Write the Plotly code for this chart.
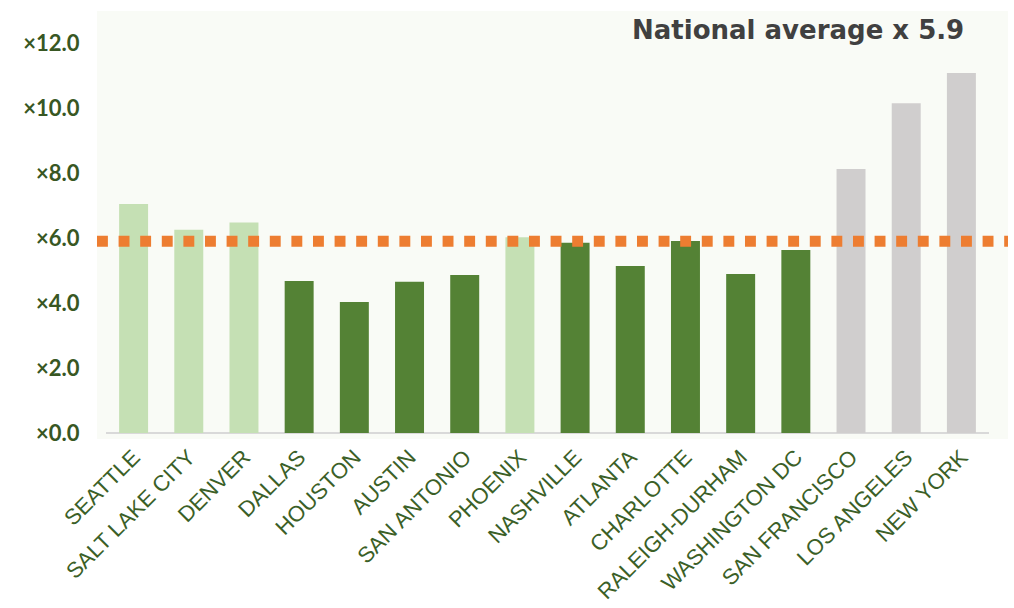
import plotly.graph_objects as go

# Cost multiples by metro area
cities = ["SEATTLE", "SALT LAKE CITY", "DENVER", "DALLAS", "HOUSTON", "AUSTIN",
          "SAN ANTONIO", "PHOENIX", "NASHVILLE", "ATLANTA", "CHARLOTTE",
          "RALEIGH-DURHAM", "WASHINGTON DC", "SAN FRANCISCO", "LOS ANGELES", "NEW YORK"]
multiples = [7.05, 6.25, 6.48, 4.68, 4.03, 4.65, 4.86, 6.02, 5.85, 5.14, 5.91,
             4.89, 5.63, 8.12, 10.15, 11.08]
groups = ["west", "west", "west", "south", "south", "south", "south", "west",
          "south", "south", "south", "south", "south", "coastal", "coastal", "coastal"]
national_average = 5.9

y_ticks = [0, 2, 4, 6, 8, 10, 12]
y_tick_text = ["×0.0", "×2.0", "×4.0", "×6.0", "×8.0", "×10.0", "×12.0"]

group_colors = {"west": "#c5e0b4", "south": "#548235", "coastal": "#d0cece"}
label_green = "#3b5f27"

fig = go.Figure()
fig.add_trace(go.Bar(
    x=cities,
    y=multiples,
    marker=dict(color=[group_colors[g] for g in groups], line=dict(width=0)),
    width=0.525,
    hoverinfo="x+y",
))

# Light panel behind the plot
fig.add_shape(type="rect", xref="paper", yref="paper",
              x0=-0.0102, x1=1.0215, y0=0, y1=1,
              fillcolor="#f9fbf6", line=dict(width=0), layer="below")

# National average reference line
fig.add_shape(type="line", xref="paper", yref="y",
              x0=-0.0102, x1=1.0215, y0=national_average, y1=national_average,
              line=dict(color="#ed7d31", width=11, dash="10.9px,10.7px"),
              layer="above")

fig.add_annotation(
    xref="paper", yref="paper", x=0.784, y=0.955,
    text=f"<b>National average x {national_average}</b>",
    showarrow=False, xanchor="center", yanchor="middle",
    font=dict(family="DejaVu Sans", size=26, color="#404040"),
)

fig.update_layout(
    width=1014, height=608,
    margin=dict(l=106, r=25, t=11, b=169, pad=0, autoexpand=False),
    paper_bgcolor="white",
    plot_bgcolor="rgba(0,0,0,0)",
    showlegend=False,
    bargap=0.475,
)

fig.update_xaxes(
    range=[-0.5, 15.5],
    tickangle=-45,
    tickfont=dict(family="Liberation Sans", size=22, color=label_green),
    showgrid=False, showline=False, ticks="", automargin=False,
)

fig.update_yaxes(
    range=[-0.185, 12.985],
    tickvals=y_ticks, ticktext=y_tick_text,
    tickfont=dict(family="Lato", size=22, color="#385723", weight="bold"),
    showgrid=False,
    zeroline=True, zerolinecolor="#d9d9d9", zerolinewidth=2,
    ticks="outside", ticklen=21, tickcolor="rgba(0,0,0,0)",
    showline=False, automargin=False,
)

fig.write_html("out.html")
